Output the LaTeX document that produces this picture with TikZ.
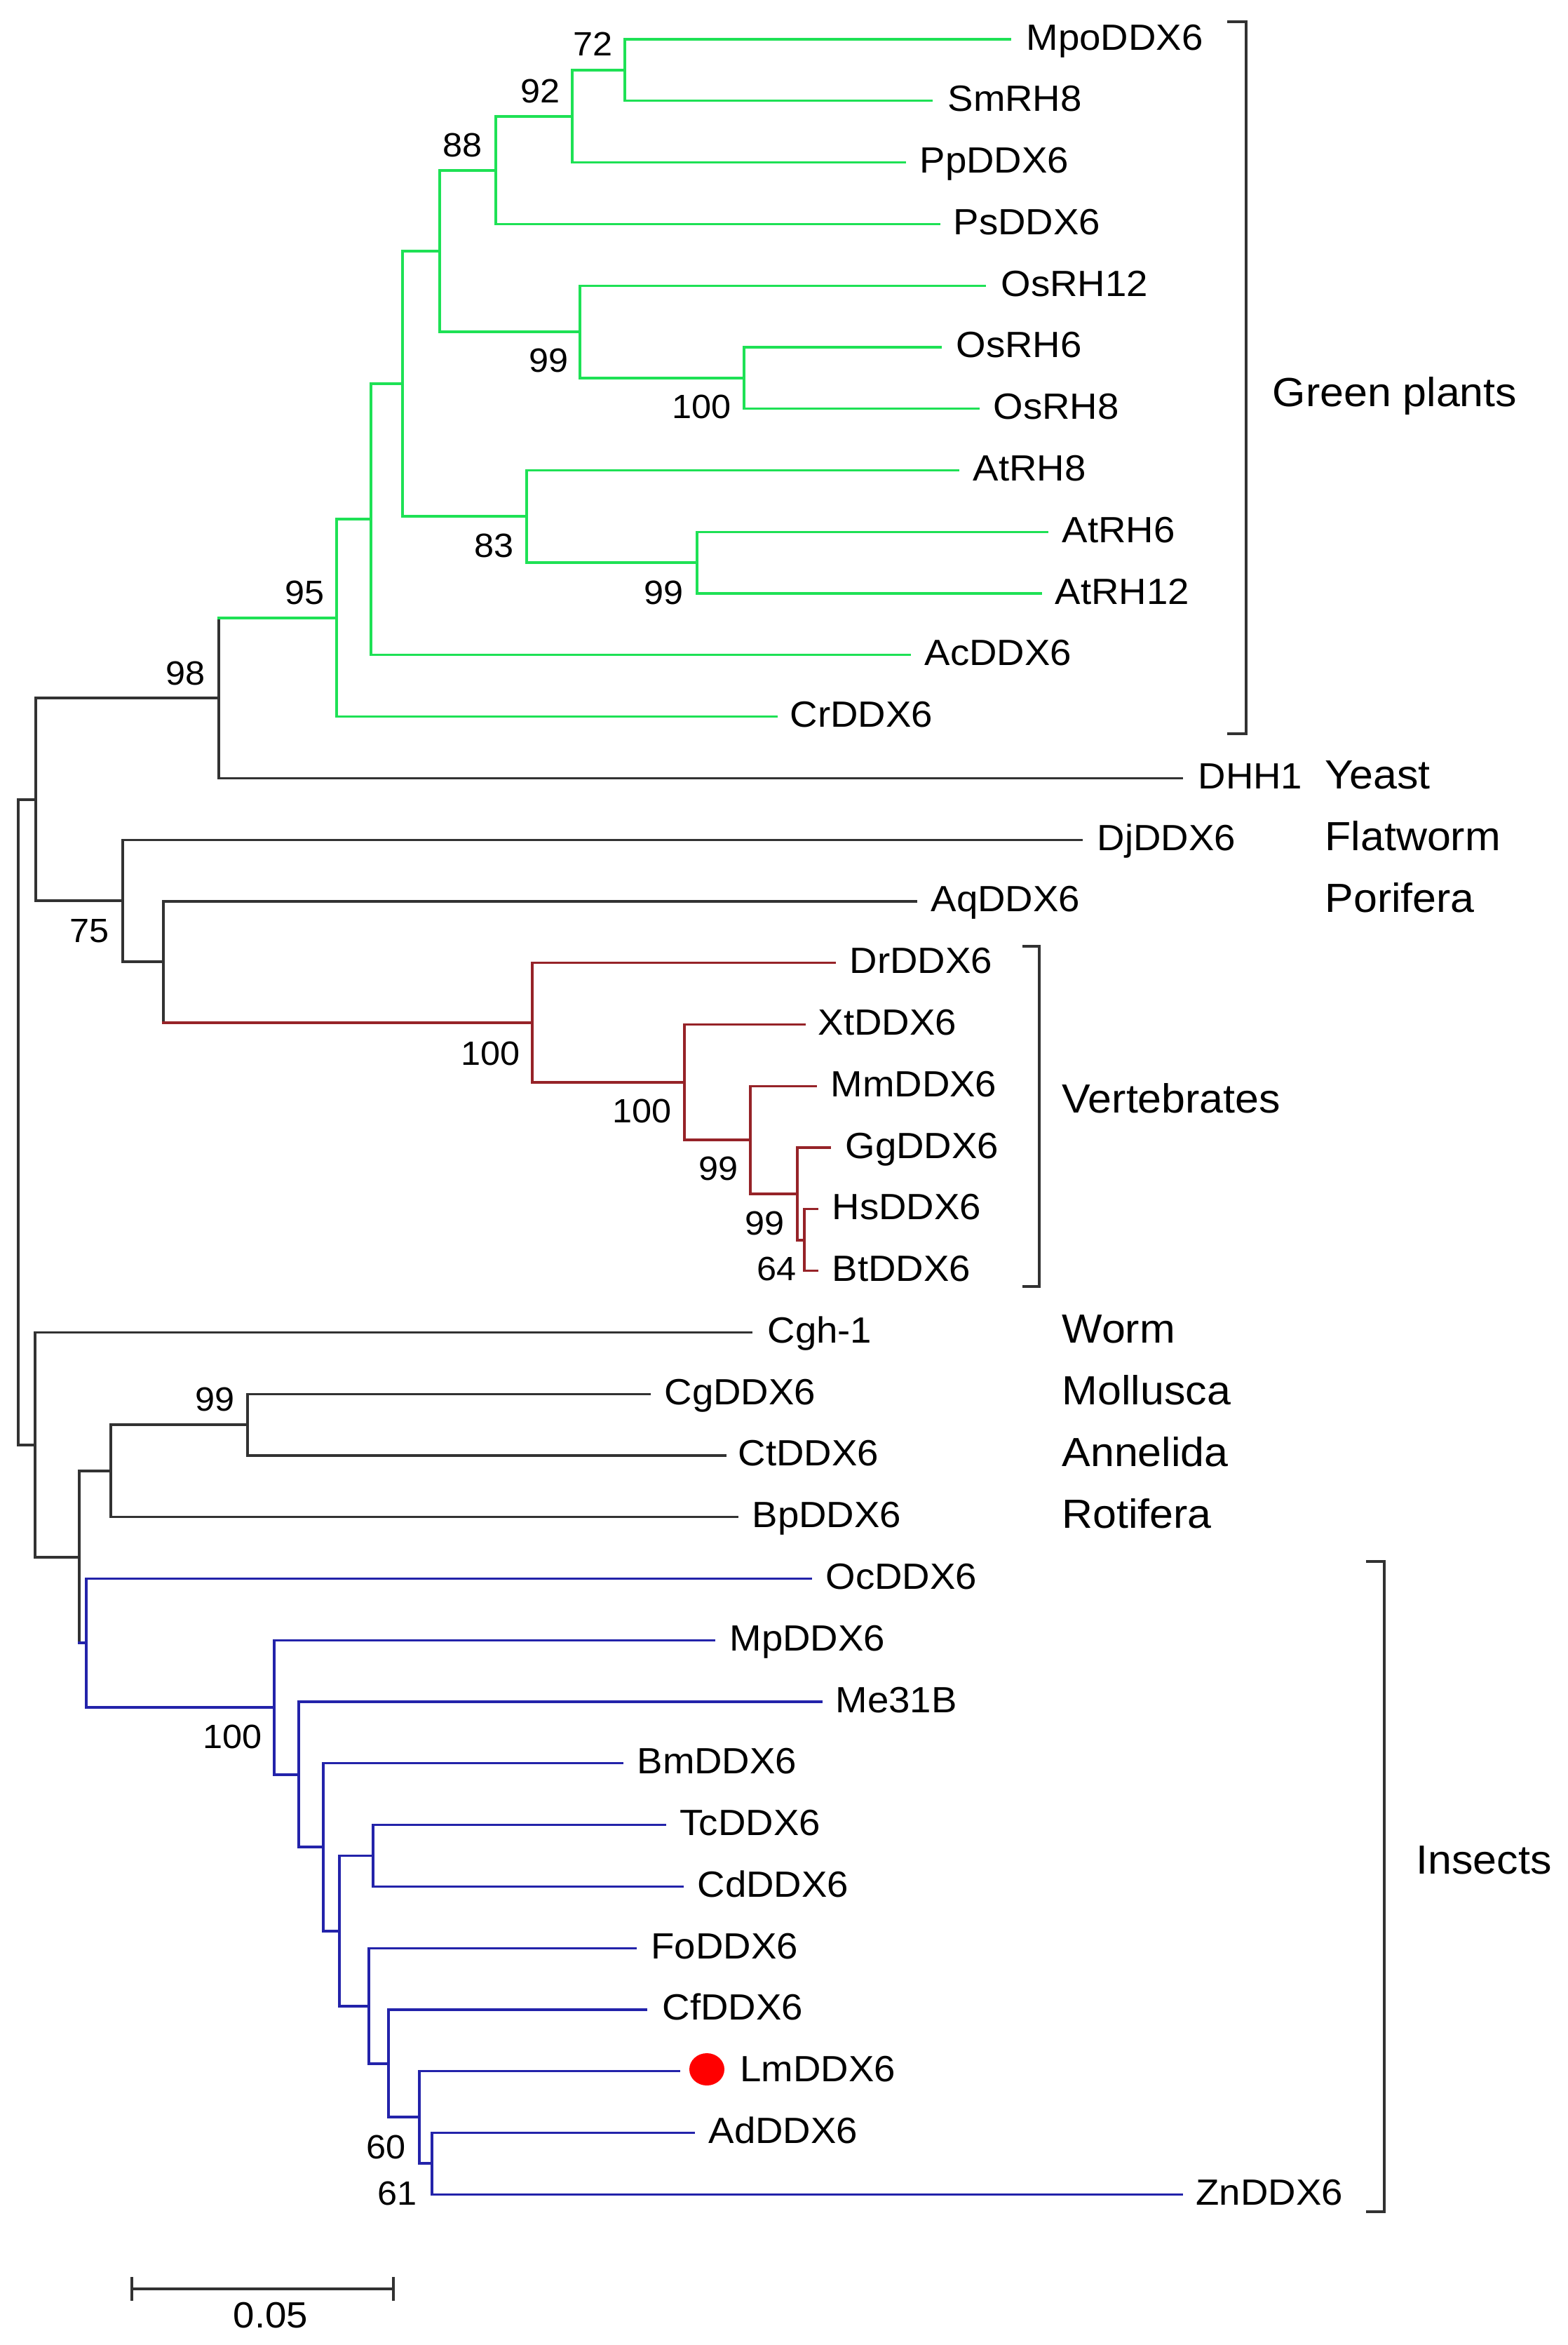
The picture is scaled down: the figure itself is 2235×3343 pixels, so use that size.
\documentclass[tikz,border=0pt]{standalone}
\usepackage{fontspec}
\setmainfont[FakeStretch=1.05]{Liberation Sans}
\usetikzlibrary{calc}
\definecolor{gp}{RGB}{30,225,85}
\definecolor{vt}{RGB}{150,35,40}
\definecolor{ins}{RGB}{35,35,170}
\definecolor{blk}{RGB}{50,50,50}
\newcommand{\br}[4]{\draw[#1] (#3) -- (#3|-#4); \draw[#2] (#3|-#4) -- (#4);}
\newcommand{\leaf}[5]{%
  \coordinate (#1) at (#3, {56+87.78*#2});
  \node[leafl] (#1-t) at (#4, {56+87.78*#2+15}) {#5};}
\begin{document}
\begin{tikzpicture}[x=1pt,y=-1pt, line width=3.2pt, line cap=rect,
  leafl/.style={anchor=base west, inner sep=0pt, font=\fontsize{52}{60}\selectfont},
  grp/.style={anchor=base west, inner sep=0pt, font=\fontsize{58}{66}\selectfont},
  bs/.style={anchor=base east, inner sep=0pt, font=\fontsize{48}{56}\selectfont}]
\useasboundingbox[fill=white] (0,0) rectangle (2235,3343);

% ---- leaves ----
\leaf{Mpo}{0}{1440}{1462}{MpoDDX6}
\leaf{Sm}{1}{1328}{1350}{SmRH8}
\leaf{Pp}{2}{1290}{1310}{PpDDX6}
\leaf{Ps}{3}{1339}{1358}{PsDDX6}
\leaf{Os12}{4}{1404}{1426}{OsRH12}
\leaf{Os6}{5}{1341}{1362}{OsRH6}
\leaf{Os8}{6}{1395}{1415}{OsRH8}
\leaf{At8}{7}{1366}{1386}{AtRH8}
\leaf{At6}{8}{1493}{1513}{AtRH6}
\leaf{At12}{9}{1484}{1503}{AtRH12}
\leaf{Ac}{10}{1297}{1317}{AcDDX6}
\leaf{Cr}{11}{1107}{1125}{CrDDX6}
\leaf{Dhh}{12}{1685}{1707}{DHH1}
\leaf{Dj}{13}{1542}{1563}{DjDDX6}
\leaf{Aq}{14}{1306}{1326}{AqDDX6}
\leaf{Dr}{15}{1190}{1210}{DrDDX6}
\leaf{Xt}{16}{1147}{1165}{XtDDX6}
\leaf{Mm}{17}{1163}{1183}{MmDDX6}
\leaf{Gg}{18}{1183}{1204}{GgDDX6}
\leaf{Hs}{19}{1165}{1185}{HsDDX6}
\leaf{Bt}{20}{1165}{1185}{BtDDX6}
\leaf{Cgh}{21}{1071}{1093}{Cgh-1}
\leaf{Cg}{22}{926}{946}{CgDDX6}
\leaf{Ct}{23}{1034}{1051}{CtDDX6}
\leaf{Bp}{24}{1051}{1071}{BpDDX6}
\leaf{Oc}{25}{1156}{1176}{OcDDX6}
\leaf{Mp}{26}{1018}{1039}{MpDDX6}
\leaf{Me}{27}{1171}{1190}{Me31B}
\leaf{Bm}{28}{887}{907}{BmDDX6}
\leaf{Tc}{29}{948}{968}{TcDDX6}
\leaf{Cd}{30}{973}{993}{CdDDX6}
\leaf{Fo}{31}{906}{927}{FoDDX6}
\leaf{Cf}{32}{921}{943}{CfDDX6}
\leaf{Lm}{33}{968}{1054}{LmDDX6}
\leaf{Ad}{34}{989}{1009}{AdDDX6}
\leaf{Zn}{35}{1685}{1704}{ZnDDX6}

% ---- internal nodes ----
\coordinate (n72) at (891,100);
\coordinate (n92) at (816,166);
\coordinate (n88) at (707,243);
\coordinate (n100os) at (1061,539);
\coordinate (n99os) at (827,473);
\coordinate (gA) at (627,358);
\coordinate (n99at) at (994,802);
\coordinate (n83) at (751,736);
\coordinate (gB) at (574,547);
\coordinate (gC) at (529,740);
\coordinate (n95) at (480,881);
\coordinate (n98) at (312,995);
\coordinate (vB) at (1147,1768);
\coordinate (vGg) at (1137,1702);
\coordinate (v99) at (1070,1625);
\coordinate (v100b) at (976,1543);
\coordinate (v100) at (759,1458);
\coordinate (aq) at (233,1371);
\coordinate (n75) at (175,1284);
\coordinate (A) at (51,1140);
\coordinate (n99m) at (353,2031);
\coordinate (D) at (158,2097);
\coordinate (L) at (616,3084);
\coordinate (K) at (598,3018);
\coordinate (J) at (554,2942);
\coordinate (I) at (526,2860);
\coordinate (TcCd) at (532,2645.5);
\coordinate (H) at (484,2753);
\coordinate (G) at (461,2633);
\coordinate (F) at (426,2530);
\coordinate (n100i) at (391,2434);
\coordinate (E) at (123,2342);
\coordinate (C) at (113,2220);
\coordinate (B) at (50,2060);
\coordinate (root) at (26,1600);

% ---- green plants ----
\br{gp}{gp}{n72}{Mpo} \br{gp}{gp}{n72}{Sm}
\br{gp}{gp}{n92}{n72} \br{gp}{gp}{n92}{Pp}
\br{gp}{gp}{n88}{n92} \br{gp}{gp}{n88}{Ps}
\br{gp}{gp}{n100os}{Os6} \br{gp}{gp}{n100os}{Os8}
\br{gp}{gp}{n99os}{Os12} \br{gp}{gp}{n99os}{n100os}
\br{gp}{gp}{gA}{n88} \br{gp}{gp}{gA}{n99os}
\br{gp}{gp}{n99at}{At6} \br{gp}{gp}{n99at}{At12}
\br{gp}{gp}{n83}{At8} \br{gp}{gp}{n83}{n99at}
\br{gp}{gp}{gB}{gA} \br{gp}{gp}{gB}{n83}
\br{gp}{gp}{gC}{gB} \br{gp}{gp}{gC}{Ac}
\br{gp}{gp}{n95}{gC} \br{gp}{gp}{n95}{Cr}
\br{blk}{gp}{n98}{n95} \br{blk}{blk}{n98}{Dhh}
% ---- upper black ----
\br{blk}{blk}{A}{n98} \br{blk}{blk}{A}{n75}
\br{blk}{blk}{n75}{Dj} \br{blk}{blk}{n75}{aq}
\br{blk}{blk}{aq}{Aq} \br{blk}{vt}{aq}{v100}
% ---- vertebrates ----
\br{vt}{vt}{v100}{Dr} \br{vt}{vt}{v100}{v100b}
\br{vt}{vt}{v100b}{Xt} \br{vt}{vt}{v100b}{v99}
\br{vt}{vt}{v99}{Mm} \br{vt}{vt}{v99}{vGg}
\br{vt}{vt}{vGg}{Gg} \br{vt}{vt}{vGg}{vB}
\br{vt}{vt}{vB}{Hs} \br{vt}{vt}{vB}{Bt}
% ---- root and lower black ----
\br{blk}{blk}{root}{A} \br{blk}{blk}{root}{B}
\br{blk}{blk}{B}{Cgh} \br{blk}{blk}{B}{C}
\br{blk}{blk}{C}{D} \br{blk}{ins}{C}{E}
\br{blk}{blk}{D}{n99m} \br{blk}{blk}{D}{Bp}
\br{blk}{blk}{n99m}{Cg} \br{blk}{blk}{n99m}{Ct}
% ---- insects ----
\br{ins}{ins}{E}{Oc} \br{ins}{ins}{E}{n100i}
\br{ins}{ins}{n100i}{Mp} \br{ins}{ins}{n100i}{F}
\br{ins}{ins}{F}{Me} \br{ins}{ins}{F}{G}
\br{ins}{ins}{G}{Bm} \br{ins}{ins}{G}{H}
\br{ins}{ins}{H}{TcCd} \br{ins}{ins}{H}{I}
\br{ins}{ins}{TcCd}{Tc} \br{ins}{ins}{TcCd}{Cd}
\br{ins}{ins}{I}{Fo} \br{ins}{ins}{I}{J}
\br{ins}{ins}{J}{Cf} \br{ins}{ins}{J}{K}
\br{ins}{ins}{K}{Lm} \br{ins}{ins}{K}{L}
\br{ins}{ins}{L}{Ad} \br{ins}{ins}{L}{Zn}

% red marker
\fill[red] (1008,2950) ellipse [x radius=25, y radius=23];

% ---- bootstrap values ----
\node[bs] (b72) at (875,80) {72};
\node[bs] (b92) at (800,146) {92};
\node[bs] (b88) at (689,223) {88};
\node[bs] (b95) at (464,861) {95};
\node[bs] (b98) at (294,976) {98};
\node[bs] (b99os) at (812,530) {99};
\node[bs] (b100os) at (1044,596) {100};
\node[bs] (b83) at (734,794) {83};
\node[bs] (b99at) at (976,861) {99};
\node[bs] (b75) at (157,1343) {75};
\node[bs] (b100v) at (743,1518) {100};
\node[bs] (b100vb) at (959,1600) {100};
\node[bs] (b99v) at (1054,1682) {99};
\node[bs] (b99gg) at (1120,1760) {99};
\node[bs] (b64) at (1137,1825) {64};
\node[bs] (b99m) at (336,2011) {99};
\node[bs] (b100i) at (375,2492) {100};
\node[bs] (b60) at (580,3077) {60};
\node[bs] (b61) at (596,3143) {61};

% ---- brackets ----
\draw[blk, line cap=butt] (1750,31) -- (1777,31) -- (1777,1046) -- (1750,1046);
\draw[blk, line cap=butt] (1458,1349) -- (1482,1349) -- (1482,1834) -- (1458,1834);
\draw[blk, line cap=butt] (1948,2226) -- (1974,2226) -- (1974,3153) -- (1948,3153);

% ---- group labels ----
\node[grp] (gGreen) at (1813,579) {Green plants};
\node[grp] (gYeast) at (1888,1124) {Yeast};
\node[grp] (gFlat) at (1888,1212) {Flatworm};
\node[grp] (gPori) at (1888,1300) {Porifera};
\node[grp] (gVert) at (1513,1586) {Vertebrates};
\node[grp] (gWorm) at (1513,1914) {Worm};
\node[grp] (gMoll) at (1513,2002) {Mollusca};
\node[grp] (gAnne) at (1513,2090) {Annelida};
\node[grp] (gRoti) at (1513,2178) {Rotifera};
\node[grp] (gIns) at (2018,2671) {Insects};

% ---- scale bar ----
\coordinate (sb1) at (188,3263);
\coordinate (sb2) at (561,3263);
\draw[blk, line cap=butt] (sb1) -- (sb2);
\draw[blk, line cap=butt] ($(sb1)+(0,-17)$) -- ($(sb1)+(0,17)$);
\draw[blk, line cap=butt] ($(sb2)+(0,-17)$) -- ($(sb2)+(0,17)$);
\node[anchor=base, inner sep=0pt, font=\fontsize{52}{60}\selectfont] (sbl) at (386,3318) {0.05};
\end{tikzpicture}
\end{document}
